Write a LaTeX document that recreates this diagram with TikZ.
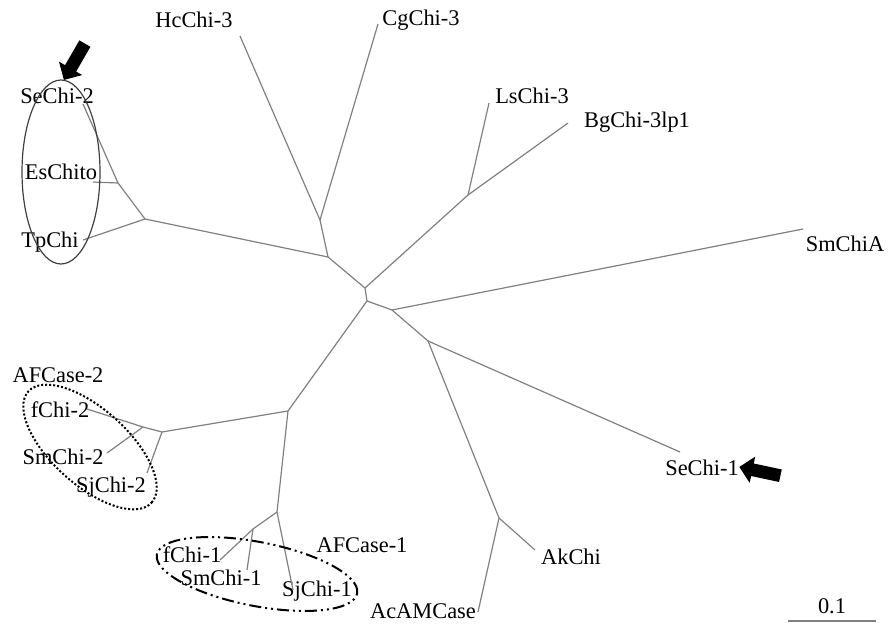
\documentclass[tikz,border=0pt]{standalone}
\usepackage{fontspec}
\setmainfont{Liberation Serif}
\usetikzlibrary{shapes,arrows,positioning}

\begin{document}
\begin{tikzpicture}[x=0.5pt,y=-0.5pt]
	\tikzstyle{Taxon}	= [font=\fontsize{11.2}{13}\selectfont, inner sep=0pt]
	\tikzstyle{Branch}	= [gray, line width=0.6pt]
	\tikzstyle{Group}	= [line width=1pt]
	\tikzstyle{Marker}	= [single arrow, fill=black, inner sep=3pt, minimum height=21pt, single arrow head extend=3.5pt]

	\useasboundingbox (0,0) rectangle (893,626);

	% inner nodes of the tree
	\coordinate (r1) at (365,288);
	\coordinate (r2) at (367,301);
	\coordinate (nHC) at (320,220);
	\coordinate (nL) at (328,257);
	\coordinate (nLB) at (468,195);
	\coordinate (nS) at (392,310);
	\coordinate (nSe) at (428,341);
	\coordinate (nAk) at (499,518);
	\coordinate (nD) at (288,411);
	\coordinate (nF2) at (162,432);
	\coordinate (nF2b) at (143,427);
	\coordinate (nF1) at (277,512);
	\coordinate (nF1b) at (253,529);
	\coordinate (nTp) at (145,219);
	\coordinate (nEs) at (118,183);

	% leaf tips
	\coordinate (tHc) at (240,36);
	\coordinate (tCg) at (378,24);
	\coordinate (tLs) at (489,103);
	\coordinate (tBg) at (568,123);
	\coordinate (tSmA) at (803,229);
	\coordinate (tSe1) at (680,452);
	\coordinate (tAk) at (535,550);
	\coordinate (tAc) at (478,612);
	\coordinate (tSj1) at (293,590);
	\coordinate (tSm1) at (247,570);
	\coordinate (tf1) at (220,560);
	\coordinate (tSj2) at (147,473);
	\coordinate (tSm2) at (107,453);
	\coordinate (tf2) at (87,409);
	\coordinate (tTp) at (83,240);
	\coordinate (tEs) at (93,182);
	\coordinate (tSe2) at (83,104);

	% labels
	\node (hc) at (194,20) [Taxon] {HcChi-3};
	\node (cg) at (421,20) [Taxon] {CgChi-3};
	\node (ls) at (532,96) [Taxon] {LsChi-3};
	\node (bg) at (637,122) [Taxon] {BgChi-3lp1};
	\node (sma) at (845,244) [Taxon] {SmChiA};
	\node (se1) at (702,468) [Taxon] {SeChi-1};
	\node (ak) at (571,557) [Taxon] {AkChi};
	\node (ac) at (423,611) [Taxon] {AcAMCase};
	\node (af1) at (362,545) [Taxon] {AFCase-1};
	\node (sj1) at (317,591) [Taxon] {SjChi-1};
	\node (sm1) at (221,578) [Taxon] {SmChi-1};
	\node (f1) at (192,555) [Taxon] {fChi-1};
	\node (af2) at (58,375) [Taxon] {AFCase-2};
	\node (f2) at (60,410) [Taxon] {fChi-2};
	\node (sm2) at (63,457) [Taxon] {SmChi-2};
	\node (sj2) at (111,487) [Taxon] {SjChi-2};
	\node (se2) at (57,96) [Taxon] {SeChi-2};
	\node (es) at (61,172) [Taxon] {EsChito};
	\node (tp) at (50,242) [Taxon] {TpChi};

	% branches
	\draw [-] (r1) to (r2) [Branch];
	\draw [-] (r1) to (nL) [Branch];
	\draw [-] (r1) to (nLB) [Branch];
	\draw [-] (nL) to (nHC) [Branch];
	\draw [-] (nL) to (nTp) [Branch];
	\draw [-] (nHC) to (tHc) [Branch];
	\draw [-] (nHC) to (tCg) [Branch];
	\draw [-] (nLB) to (tLs) [Branch];
	\draw [-] (nLB) to (tBg) [Branch];
	\draw [-] (nTp) to (nEs) [Branch];
	\draw [-] (nTp) to (tTp) [Branch];
	\draw [-] (nEs) to (tEs) [Branch];
	\draw [-] (nEs) to (tSe2) [Branch];
	\draw [-] (r2) to (nS) [Branch];
	\draw [-] (r2) to (nD) [Branch];
	\draw [-] (nS) to (tSmA) [Branch];
	\draw [-] (nS) to (nSe) [Branch];
	\draw [-] (nSe) to (tSe1) [Branch];
	\draw [-] (nSe) to (nAk) [Branch];
	\draw [-] (nAk) to (tAk) [Branch];
	\draw [-] (nAk) to (tAc) [Branch];
	\draw [-] (nD) to (nF2) [Branch];
	\draw [-] (nD) to (nF1) [Branch];
	\draw [-] (nF2) to (nF2b) [Branch];
	\draw [-] (nF2) to (tSj2) [Branch];
	\draw [-] (nF2b) to (tf2) [Branch];
	\draw [-] (nF2b) to (tSm2) [Branch];
	\draw [-] (nF1) to (nF1b) [Branch];
	\draw [-] (nF1) to (tSj1) [Branch];
	\draw [-] (nF1b) to (tf1) [Branch];
	\draw [-] (nF1b) to (tSm1) [Branch];

	% groups and markers
	\draw [darkgray, line width=0.6pt] (61,172) ellipse [x radius=19.5pt, y radius=46pt];
	\draw [Group, densely dotted, rotate around={-42:(90,447)}] (90,447) ellipse [x radius=41.5pt, y radius=19pt];
	\draw [Group, dash pattern=on 6pt off 2pt on 1pt off 2pt on 1pt off 2pt, rotate around={-11:(257,574)}] (257,574) ellipse [x radius=51pt, y radius=16pt];
	\node (markA) at (76,59) [Marker, rotate=-120] {};
	\node (markB) at (763,472) [Marker, rotate=168] {};

	% scale bar
	\coordinate (sbL) at (788,621);
	\coordinate (sbR) at (876,621);
	\draw [-] (sbL) to (sbR) [Branch];
	\node (sb) at (832,606) [Taxon] {0.1};
\end{tikzpicture}
\end{document}
